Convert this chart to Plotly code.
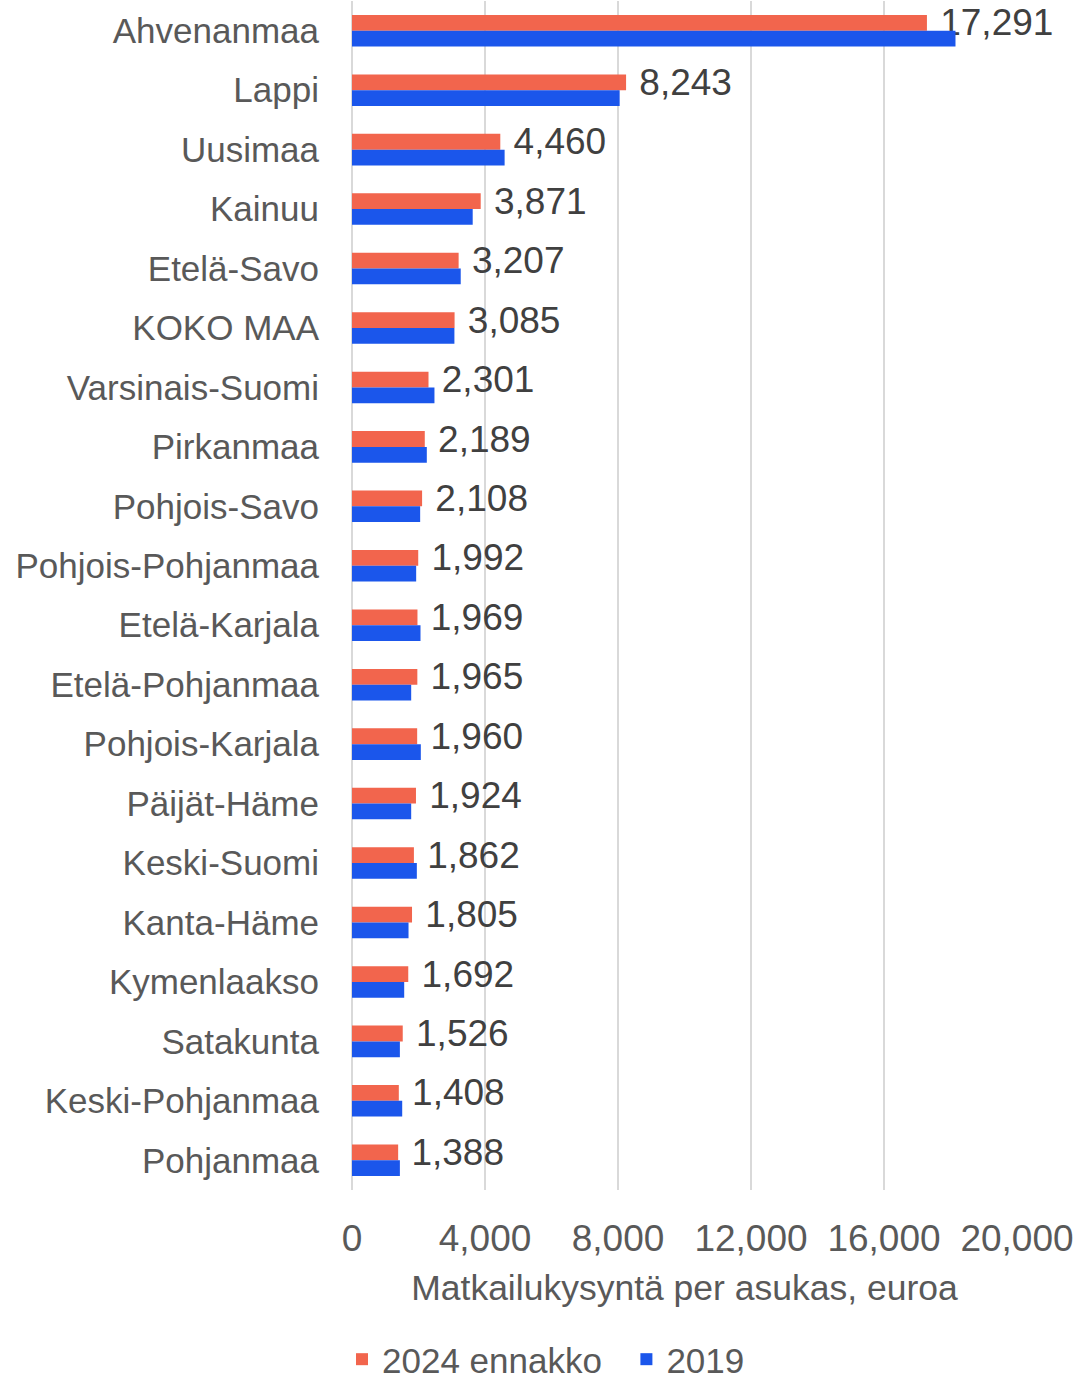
import plotly.graph_objects as go

regions = ["Ahvenanmaa", "Lappi", "Uusimaa", "Kainuu", "Etelä-Savo", "KOKO MAA",
           "Varsinais-Suomi", "Pirkanmaa", "Pohjois-Savo", "Pohjois-Pohjanmaa",
           "Etelä-Karjala", "Etelä-Pohjanmaa", "Pohjois-Karjala", "Päijät-Häme",
           "Keski-Suomi", "Kanta-Häme", "Kymenlaakso", "Satakunta",
           "Keski-Pohjanmaa", "Pohjanmaa"]
values_2024 = [17291, 8243, 4460, 3871, 3207, 3085, 2301, 2189, 2108, 1992,
               1969, 1965, 1960, 1924, 1862, 1805, 1692, 1526, 1408, 1388]
values_2019 = [18150, 8050, 4590, 3630, 3270, 3080, 2480, 2250, 2050, 1930,
               2060, 1780, 2070, 1780, 1950, 1700, 1570, 1440, 1510, 1440]
x_ticks = [0, 4000, 8000, 12000, 16000, 20000]
x_tick_labels = ["0", "4,000", "8,000", "12,000", "16,000", "20,000"]

FONT = "Liberation Sans, Arial, sans-serif"
GRAY = "#595959"

fig = go.Figure()
fig.add_trace(go.Bar(
    y=regions, x=values_2024, orientation="h", name="2024 ennakko\u00a0\u00a0",
    marker=dict(color="#F2654D", line=dict(width=0)),
    text=[f"\u00a0{v:,}" for v in values_2024],
    textposition="outside", constraintext="none", cliponaxis=False,
    textfont=dict(family=FONT, size=37, color="#404040"),
))
fig.add_trace(go.Bar(
    y=regions, x=values_2019, orientation="h", name="2019",
    marker=dict(color="#1B56EB", line=dict(width=0)),
))

fig.update_layout(
    width=1081, height=1383,
    barmode="group", bargap=0.47, bargroupgap=0,
    paper_bgcolor="white", plot_bgcolor="white",
    margin=dict(l=352, r=64, t=1, b=193, autoexpand=False),
    font=dict(family=FONT, size=34, color=GRAY),
    showlegend=True,
    legend=dict(orientation="h", x=-0.015, xanchor="left", y=-0.1425, yanchor="middle",
                font=dict(family=FONT, size=35, color=GRAY),
                traceorder="normal", itemwidth=30),
)
fig.update_xaxes(
    automargin=False,
    range=[0, 20000], tickvals=x_ticks, ticktext=x_tick_labels,
    showgrid=True, gridcolor="#D9D9D9", gridwidth=2,
    zeroline=True, zerolinecolor="#D9D9D9", zerolinewidth=2,
    showline=False, ticks="", ticklabelstandoff=23,
    tickfont=dict(family=FONT, size=37, color=GRAY),
    title=dict(text="Matkailukysyntä per asukas, euroa", standoff=17,
               font=dict(family=FONT, size=35.5, color=GRAY)),
)
fig.update_yaxes(
    automargin=False,
    autorange="reversed", showgrid=False, zeroline=False, showline=False,
    ticks="", ticklabelstandoff=32,
    tickfont=dict(family=FONT, size=35, color=GRAY),
)

fig.write_html(
    "out.html",
    config={"displayModeBar": False},
    post_script="document.body.style.margin='0';document.body.style.padding='0';"
                "document.body.style.overflow='hidden';",
)
